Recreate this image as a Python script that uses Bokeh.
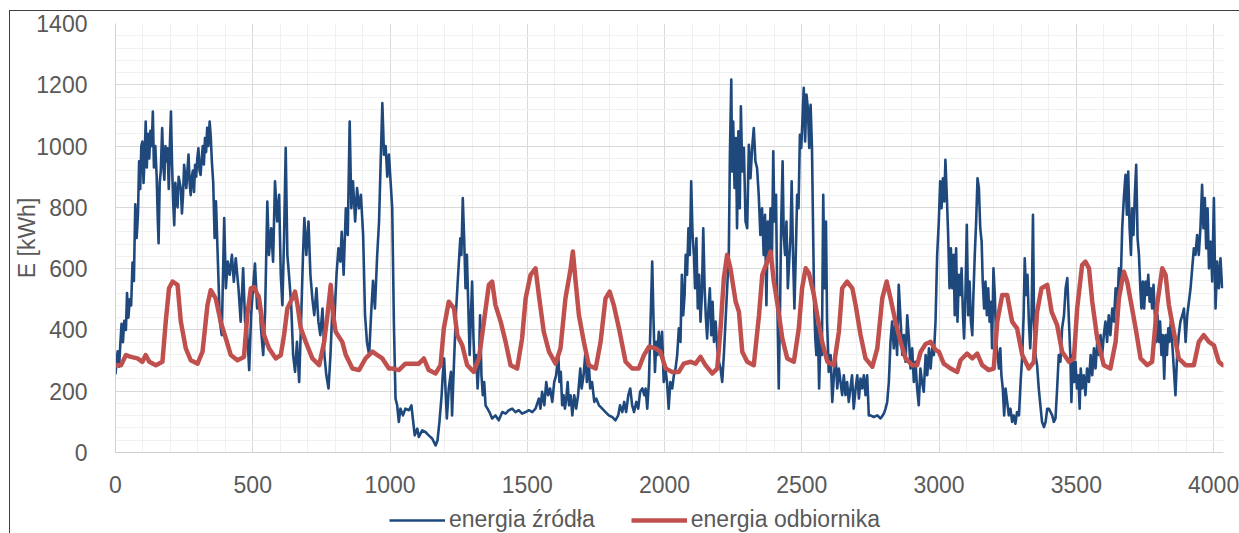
from bokeh.plotting import figure
from bokeh.layouts import column
from bokeh.models import Range1d, Legend, LegendItem, FixedTicker
from bokeh.embed import file_html
from bokeh.resources import INLINE

# ---------------- data ----------------
x_ticks = [0, 500, 1000, 1500, 2000, 2500, 3000, 3500, 4000]
y_ticks = [0, 200, 400, 600, 800, 1000, 1200, 1400]
x_minor = list(range(0, 4001, 100))
y_minor = list(range(0, 1401, 40))

series_names = ["energia źródła", "energia odbiornika"]
y_title = "E [kWh]"

# energia źródła (source energy), (hour, kWh)
blue_pts = [
    (0, 255), (4, 300), (8, 330), (13, 280), (18, 360), (22, 420), (27, 360), (32, 430), (38, 400),
    (42, 520), (47, 440), (52, 500), (57, 480), (62, 620), (67, 560), (72, 810), (77, 700), (82, 780),
    (86, 950), (90, 860), (94, 1000), (98, 1015), (102, 880), (106, 960), (110, 1080), (114, 930),
    (118, 1040), (123, 960), (127, 1050), (132, 1000), (136, 1113), (140, 930), (145, 1000), (150, 900),
    (154, 760), (157, 683), (161, 880), (165, 920), (170, 1059), (174, 940), (178, 890), (182, 1000),
    (186, 950), (190, 993), (194, 860), (198, 1000), (202, 1113), (206, 940), (210, 820), (214, 742),
    (218, 880), (222, 830), (226, 800), (230, 900), (234, 880), (238, 860), (242, 780), (246, 840),
    (250, 939), (254, 900), (258, 863), (262, 920), (266, 972), (270, 880), (274, 840), (278, 900),
    (282, 920), (286, 850), (290, 939), (294, 900), (298, 960), (302, 993), (306, 920), (310, 906),
    (314, 960), (318, 1000), (322, 940), (326, 1026), (330, 980), (334, 1060), (338, 1000), (343, 1080),
    (347, 1030), (351, 950), (356, 880), (361, 700), (366, 820), (373, 623), (380, 427), (387, 383),
    (396, 765), (402, 536), (409, 623), (416, 580), (424, 645), (431, 557), (438, 634), (448, 536),
    (456, 427), (465, 601), (472, 427), (479, 405), (487, 269), (494, 448), (501, 536), (508, 617),
    (516, 470), (523, 514), (530, 405), (538, 318), (545, 460), (553, 819), (559, 645), (567, 732),
    (574, 623), (581, 885), (589, 754), (596, 841), (602, 580), (608, 481), (614, 699), (620, 994),
    (626, 645), (632, 580), (640, 481), (647, 318), (654, 263), (661, 361), (669, 230), (676, 427),
    (683, 645), (688, 765), (695, 645), (703, 754), (710, 580), (717, 503), (724, 448), (732, 536),
    (739, 427), (746, 383), (754, 470), (761, 318), (768, 252), (776, 209), (783, 318), (790, 470),
    (797, 427), (805, 580), (812, 666), (819, 623), (824, 720), (831, 580), (839, 797), (846, 710),
    (853, 1080), (859, 797), (865, 885), (873, 754), (880, 863), (887, 797), (894, 841), (902, 710),
    (909, 448), (916, 360), (924, 318), (931, 450), (938, 560), (945, 470), (953, 640), (960, 754),
    (966, 950), (972, 1140), (978, 972), (984, 1000), (990, 900), (996, 972), (1002, 885), (1008, 797),
    (1014, 427), (1020, 176), (1026, 154), (1032, 100), (1038, 143), (1047, 121), (1056, 143),
    (1069, 138), (1078, 154), (1083, 111), (1090, 56), (1099, 78), (1105, 51), (1117, 72), (1129, 67),
    (1141, 56), (1154, 45), (1166, 23), (1173, 40), (1180, 100), (1188, 187), (1192, 252), (1197, 307),
    (1202, 209), (1207, 111), (1214, 209), (1222, 263), (1226, 121), (1234, 318), (1241, 470),
    (1248, 580), (1256, 699), (1260, 645), (1265, 830), (1270, 699), (1275, 536), (1280, 645),
    (1285, 481), (1290, 318), (1294, 427), (1299, 558), (1304, 372), (1309, 263), (1314, 318),
    (1319, 209), (1324, 296), (1328, 448), (1333, 252), (1338, 187), (1343, 230), (1348, 154),
    (1355, 143), (1362, 132), (1372, 111), (1384, 121), (1396, 105), (1409, 132), (1421, 127),
    (1433, 138), (1445, 143), (1457, 132), (1469, 138), (1481, 127), (1494, 132), (1506, 138),
    (1518, 132), (1530, 143), (1542, 176), (1548, 143), (1554, 198), (1562, 154), (1569, 230),
    (1576, 187), (1583, 209), (1591, 165), (1598, 230), (1605, 252), (1613, 318), (1617, 230),
    (1622, 263), (1627, 154), (1632, 187), (1637, 143), (1642, 176), (1647, 230), (1652, 154),
    (1658, 187), (1664, 121), (1671, 187), (1678, 143), (1685, 187), (1693, 274), (1698, 209),
    (1705, 252), (1712, 329), (1717, 230), (1724, 296), (1729, 209), (1736, 230), (1744, 165),
    (1751, 176), (1761, 154), (1773, 143), (1785, 132), (1797, 121), (1809, 116), (1821, 105),
    (1831, 121), (1838, 154), (1846, 132), (1853, 165), (1860, 132), (1868, 187), (1875, 209),
    (1882, 154), (1889, 132), (1897, 165), (1904, 143), (1911, 198), (1919, 209), (1926, 187),
    (1931, 209), (1937, 143), (1943, 230), (1949, 427), (1955, 623), (1960, 427), (1965, 263),
    (1970, 361), (1974, 318), (1979, 394), (1985, 318), (1991, 394), (1997, 230), (2003, 274),
    (2009, 230), (2015, 143), (2021, 230), (2028, 209), (2034, 252), (2040, 274), (2046, 318),
    (2052, 405), (2058, 361), (2063, 580), (2068, 448), (2073, 514), (2077, 645), (2082, 580),
    (2087, 732), (2092, 645), (2097, 885), (2102, 710), (2107, 645), (2111, 536), (2116, 699),
    (2121, 470), (2126, 580), (2131, 427), (2136, 514), (2141, 732), (2146, 536), (2150, 448),
    (2155, 372), (2160, 470), (2165, 536), (2170, 383), (2175, 492), (2180, 361), (2186, 427),
    (2192, 340), (2198, 296), (2204, 274), (2210, 230), (2216, 318), (2222, 427), (2228, 536),
    (2234, 645), (2238, 972), (2243, 1217), (2246, 917), (2250, 1080), (2255, 863), (2260, 1026),
    (2264, 732), (2269, 1048), (2274, 797), (2278, 1130), (2283, 917), (2289, 994), (2295, 754),
    (2301, 732), (2307, 1004), (2313, 895), (2319, 994), (2325, 1059), (2331, 950), (2337, 928),
    (2343, 841), (2349, 710), (2355, 797), (2361, 645), (2366, 776), (2371, 481), (2376, 754),
    (2381, 645), (2386, 797), (2391, 623), (2396, 983), (2400, 754), (2406, 841), (2410, 536),
    (2416, 209), (2420, 427), (2425, 754), (2430, 950), (2434, 710), (2439, 645), (2444, 754),
    (2449, 536), (2454, 623), (2459, 710), (2463, 885), (2468, 645), (2473, 470), (2478, 645),
    (2483, 841), (2488, 797), (2493, 1037), (2498, 994), (2503, 1102), (2507, 1190), (2512, 1015),
    (2517, 1168), (2522, 1124), (2527, 994), (2532, 1135), (2537, 994), (2541, 732), (2545, 481),
    (2549, 372), (2553, 318), (2558, 427), (2563, 209), (2568, 372), (2573, 318), (2578, 841),
    (2583, 536), (2588, 754), (2592, 427), (2598, 263), (2605, 318), (2611, 165), (2617, 252),
    (2623, 318), (2629, 209), (2635, 274), (2641, 230), (2647, 187), (2653, 252), (2659, 187),
    (2665, 230), (2671, 165), (2677, 209), (2683, 252), (2689, 143), (2696, 209), (2702, 252),
    (2708, 176), (2714, 241), (2720, 209), (2726, 252), (2732, 187), (2738, 252), (2744, 121),
    (2750, 121), (2762, 116), (2775, 121), (2787, 111), (2799, 127), (2805, 143), (2811, 165),
    (2817, 230), (2823, 361), (2829, 427), (2835, 340), (2841, 427), (2847, 318), (2853, 547),
    (2860, 427), (2866, 318), (2872, 383), (2878, 296), (2884, 448), (2890, 372), (2896, 274),
    (2902, 340), (2908, 230), (2914, 296), (2920, 209), (2926, 154), (2932, 274), (2938, 230),
    (2944, 198), (2951, 318), (2957, 252), (2963, 340), (2969, 274), (2975, 340), (2981, 318),
    (2987, 427), (2993, 645), (2999, 754), (3004, 885), (3009, 797), (3014, 895), (3019, 819),
    (3023, 955), (3028, 841), (3033, 710), (3038, 536), (3043, 666), (3048, 536), (3053, 645),
    (3057, 448), (3062, 666), (3067, 427), (3072, 580), (3077, 514), (3082, 601), (3087, 448),
    (3091, 372), (3096, 514), (3101, 743), (3106, 448), (3111, 558), (3116, 427), (3121, 383),
    (3125, 514), (3130, 645), (3135, 754), (3140, 895), (3145, 863), (3150, 732), (3155, 688),
    (3159, 558), (3164, 470), (3169, 558), (3174, 448), (3179, 536), (3184, 427), (3189, 492),
    (3193, 340), (3198, 601), (3203, 514), (3208, 361), (3213, 318), (3218, 274), (3223, 340),
    (3227, 252), (3232, 209), (3237, 121), (3242, 209), (3248, 165), (3254, 121), (3260, 143),
    (3266, 100), (3272, 121), (3278, 94), (3284, 132), (3291, 121), (3297, 230), (3303, 318),
    (3308, 448), (3312, 634), (3317, 514), (3322, 580), (3327, 427), (3332, 340), (3337, 448),
    (3342, 776), (3346, 427), (3351, 318), (3357, 285), (3363, 209), (3369, 154), (3375, 100),
    (3382, 83), (3388, 100), (3394, 143), (3400, 143), (3406, 132), (3412, 121), (3418, 100),
    (3424, 111), (3430, 209), (3436, 318), (3442, 296), (3448, 405), (3455, 448), (3461, 536),
    (3467, 569), (3473, 427), (3478, 318), (3482, 165), (3487, 318), (3492, 230), (3497, 296),
    (3502, 209), (3507, 252), (3512, 143), (3516, 274), (3521, 209), (3527, 252), (3533, 187),
    (3539, 274), (3546, 230), (3552, 318), (3558, 252), (3564, 340), (3570, 274), (3576, 361),
    (3582, 318), (3588, 383), (3594, 318), (3600, 383), (3606, 427), (3612, 361), (3618, 448),
    (3624, 383), (3631, 470), (3637, 427), (3643, 536), (3649, 470), (3655, 601), (3661, 536),
    (3667, 732), (3673, 830), (3679, 906), (3684, 776), (3689, 917), (3694, 732), (3699, 645),
    (3703, 797), (3708, 710), (3713, 841), (3718, 939), (3723, 699), (3728, 645), (3733, 536),
    (3737, 470), (3742, 558), (3747, 470), (3752, 558), (3757, 514), (3762, 580), (3767, 492),
    (3771, 536), (3776, 470), (3781, 547), (3786, 448), (3791, 361), (3796, 448), (3801, 361),
    (3805, 427), (3810, 318), (3815, 383), (3820, 241), (3825, 383), (3830, 318), (3835, 405),
    (3839, 361), (3844, 427), (3849, 361), (3855, 274), (3861, 187), (3867, 318), (3873, 383),
    (3879, 427), (3886, 448), (3892, 470), (3898, 361), (3904, 448), (3910, 492), (3916, 536),
    (3922, 601), (3928, 666), (3934, 645), (3940, 710), (3946, 645), (3952, 732), (3958, 874),
    (3963, 732), (3968, 830), (3973, 666), (3978, 797), (3983, 601), (3989, 688), (3995, 558),
    (4001, 830), (4007, 470), (4013, 623), (4019, 536), (4025, 634), (4031, 536),
]

# energia odbiornika (load energy), (hour, kWh)
red_pts = [
    (0, 285), (20, 285), (38, 318), (56, 312), (80, 307), (98, 296), (110, 318), (123, 296), (147, 285),
    (171, 296), (183, 427), (195, 536), (208, 558), (226, 547), (238, 427), (256, 340), (274, 301),
    (299, 290), (317, 329), (335, 481), (347, 530), (365, 503), (383, 427), (402, 372), (420, 318),
    (444, 301), (468, 312), (480, 448), (493, 536), (505, 540), (523, 503), (541, 383), (559, 340),
    (584, 307), (602, 318), (614, 383), (626, 470), (644, 503), (654, 525), (663, 481), (675, 405),
    (693, 361), (717, 307), (742, 285), (760, 361), (772, 448), (784, 547), (793, 448), (802, 394),
    (826, 361), (839, 318), (863, 274), (887, 269), (911, 307), (936, 329), (954, 318), (972, 307),
    (996, 274), (1008, 274), (1032, 269), (1056, 290), (1081, 290), (1105, 290), (1123, 307),
    (1141, 269), (1166, 258), (1184, 285), (1196, 405), (1214, 492), (1233, 470), (1245, 383),
    (1263, 350), (1281, 285), (1305, 263), (1324, 307), (1342, 427), (1360, 547), (1372, 558),
    (1384, 481), (1403, 427), (1421, 361), (1439, 285), (1463, 274), (1481, 372), (1494, 503),
    (1512, 580), (1530, 601), (1542, 514), (1560, 394), (1579, 329), (1603, 290), (1621, 340),
    (1639, 503), (1658, 601), (1666, 656), (1676, 558), (1688, 448), (1706, 361), (1724, 285),
    (1749, 274), (1767, 361), (1785, 503), (1800, 525), (1815, 481), (1834, 405), (1858, 296),
    (1882, 274), (1906, 274), (1925, 318), (1943, 345), (1967, 340), (1985, 329), (2004, 274),
    (2028, 263), (2052, 263), (2070, 290), (2095, 296), (2113, 290), (2131, 312), (2149, 285),
    (2174, 258), (2192, 274), (2204, 405), (2216, 569), (2228, 645), (2240, 601), (2259, 492),
    (2271, 459), (2283, 329), (2301, 296), (2325, 285), (2344, 448), (2356, 580), (2374, 623),
    (2386, 656), (2398, 558), (2410, 492), (2429, 372), (2447, 307), (2471, 296), (2489, 405),
    (2501, 536), (2514, 601), (2526, 585), (2544, 514), (2556, 448), (2574, 361), (2593, 296),
    (2617, 285), (2635, 394), (2647, 536), (2665, 558), (2684, 536), (2696, 481), (2714, 383),
    (2732, 307), (2757, 280), (2775, 340), (2793, 503), (2809, 558), (2823, 503), (2841, 427),
    (2860, 361), (2878, 307), (2902, 285), (2920, 285), (2933, 329), (2951, 354), (2969, 361),
    (2987, 335), (2999, 329), (3017, 290), (3042, 274), (3066, 263), (3078, 301), (3102, 323),
    (3121, 307), (3139, 323), (3157, 285), (3181, 269), (3199, 274), (3212, 427), (3230, 514),
    (3248, 514), (3266, 427), (3284, 405), (3303, 318), (3327, 274), (3345, 296), (3357, 459),
    (3373, 536), (3394, 547), (3410, 459), (3430, 416), (3448, 329), (3473, 296), (3491, 307),
    (3503, 470), (3521, 612), (3533, 623), (3546, 601), (3558, 492), (3576, 372), (3600, 285),
    (3624, 274), (3643, 361), (3655, 503), (3673, 590), (3685, 558), (3703, 470), (3716, 405),
    (3734, 307), (3758, 285), (3776, 296), (3794, 481), (3813, 601), (3825, 580), (3837, 481),
    (3855, 394), (3873, 307), (3898, 285), (3928, 285), (3946, 361), (3964, 383), (3983, 361),
    (4001, 350), (4019, 296), (4033, 285),
]

blue_x = [a for a, b in blue_pts]
blue_y = [b for a, b in blue_pts]
red_x = [a for a, b in red_pts]
red_y = [b for a, b in red_pts]

# ---------------- styling ----------------
FONT = "Liberation Sans"
TXT = "#595959"
BLUE = "#1f497d"
RED = "#c0504d"

# ---------------- main chart ----------------
p = figure(width=1229, height=489, output_backend="svg", toolbar_location=None,
           x_range=Range1d(0, 4036), y_range=Range1d(0, 1400),
           min_border_left=105, min_border_right=16, min_border_top=12, min_border_bottom=48)
p.outline_line_color = None
p.background_fill_color = "white"
p.border_fill_color = "white"

p.xaxis.ticker = FixedTicker(ticks=x_ticks, minor_ticks=x_minor)
p.yaxis.ticker = FixedTicker(ticks=y_ticks, minor_ticks=y_minor)

for g in (p.xgrid, p.ygrid):
    g.grid_line_color = "#d9d9d9"
    g.grid_line_width = 1
    g.minor_grid_line_color = "#f0f0f0"
    g.minor_grid_line_width = 1

for ax in (p.xaxis, p.yaxis):
    ax.axis_line_color = "#d0d0d0"
    ax.axis_line_width = 1
    ax.major_tick_line_color = None
    ax.minor_tick_line_color = None
    ax.major_tick_out = 0
    ax.major_tick_in = 0
    ax.major_label_text_font = FONT
    ax.major_label_text_font_size = "23px"
    ax.major_label_text_color = TXT
p.yaxis.major_label_standoff = 24
p.xaxis.major_label_standoff = 19

p.yaxis.axis_label = y_title
p.yaxis.axis_label_standoff = -7
p.yaxis.axis_label_text_font = FONT
p.yaxis.axis_label_text_font_size = "23px"
p.yaxis.axis_label_text_font_style = "normal"
p.yaxis.axis_label_text_color = TXT

p.line(blue_x, blue_y, line_color=BLUE, line_width=2.6, line_join="round")
p.line(red_x, red_y, line_color=RED, line_width=4.5, line_join="round", line_cap="round")

# ---------------- legend strip (below the chart) ----------------
q = figure(width=1229, height=33, output_backend="svg", toolbar_location=None,
           x_range=Range1d(0, 1), y_range=Range1d(0, 1),
           x_axis_location=None, y_axis_location=None, min_border=0)
q.outline_line_color = None
q.background_fill_color = "white"
q.border_fill_color = "white"
q.grid.visible = False
nan = float("nan")
kb = q.line([0, 1], [nan, nan], line_color=BLUE, line_width=2.6)   # legend key only
kr = q.line([0, 1], [nan, nan], line_color=RED, line_width=4.5)    # legend key only

legend = Legend(items=[LegendItem(label=series_names[0], renderers=[kb]),
                       LegendItem(label=series_names[1], renderers=[kr])],
                orientation="horizontal", location=(274, 0),
                glyph_width=56, glyph_height=20, label_standoff=4, spacing=36,
                padding=0, margin=0, border_line_color=None, background_fill_alpha=0,
                label_text_font=FONT, label_text_font_size="23px", label_text_color=TXT)
q.add_layout(legend, "center")

layout = column(p, q, spacing=0,
                styles={"margin-left": "9px", "margin-top": "10px",
                        "border-left": "1px solid #404040", "border-top": "1px solid #404040"})

open("out.html", "w").write(file_html(layout, INLINE))
